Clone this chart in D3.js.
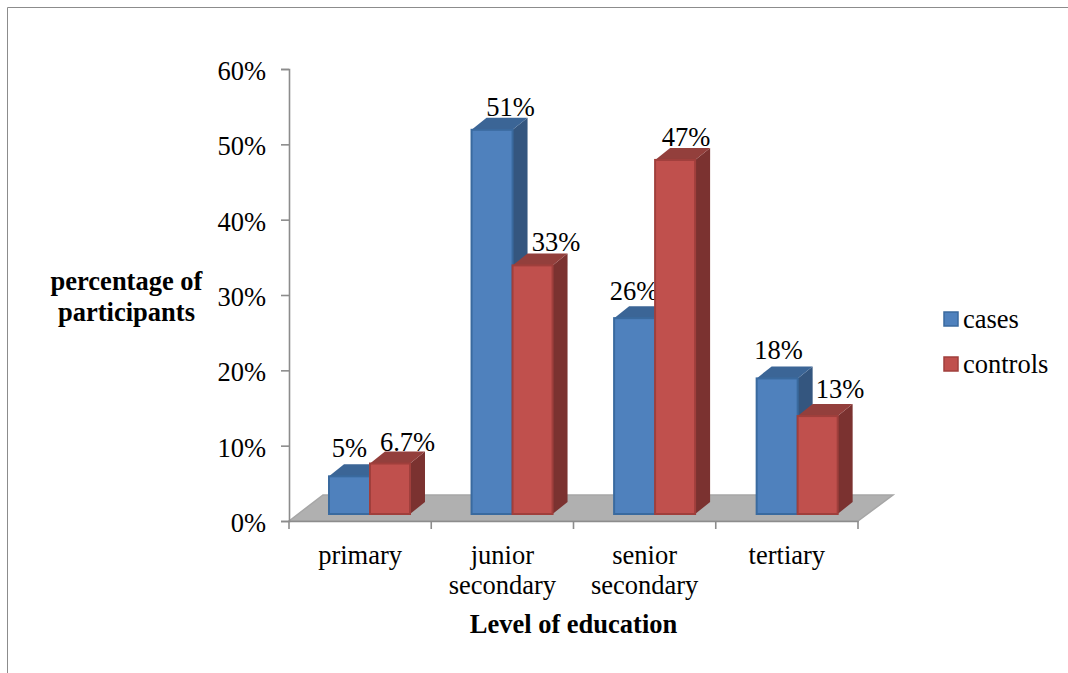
<!DOCTYPE html>
<html><head><meta charset="utf-8">
<script src="https://d3js.org/d3.v7.min.js"></script>
<style>html,body{margin:0;padding:0;background:#fff}svg{display:block}text{font-family:"Liberation Serif",serif;fill:#000}</style>
</head><body><svg id="c" width="1068" height="673"></svg>
<script>
const categories = [["primary"],["junior","secondary"],["senior","secondary"],["tertiary"]];
const categoryKeys = ["primary","junior secondary","senior secondary","tertiary"];
const seriesNames = ["cases","controls"];
const cases = [5,51,26,18];
const controls = [6.7,33,47,13];
const casesLabels = ["5%","51%","26%","18%"];
const controlsLabels = ["6.7%","33%","47%","13%"];
const tickValues = [0,10,20,30,40,50,60];

// hand-placed label nudges of the original, relative to the bar's top centre
const casesNudge = [[0,-19],[18.5,-14],[-0.5,-18],[1.5,-19]];
const controlsNudge = [[17.5,-13],[23.5,-14],[11,-14],[22.5,-18]];

const svg = d3.select("#c");
const fs = "26.5px";
const x = d3.scaleBand().domain(categoryKeys).range([289,858]);
const y = d3.scaleLinear().domain([0,60]).range([521,69]);
const dx = 15, dy = -12, wallDrop = 7, barWs = [41,40], inset = 40, drift = 0.3;
const pal = [
 {front:"#4f81bd",top:"#3b6596",side:"#34567f",stroke:"#3a6a9f"},
 {front:"#c0504d",top:"#933f3c",side:"#7b3230",stroke:"#a03f3c"}];

svg.append("path").attr("d","M7.5,673V7.5H1068").attr("fill","none").attr("stroke","#8c8c8c").attr("stroke-width",1);

// floor
const fy0 = y(0), fx0 = x.range()[0], fx1 = x.range()[1];
svg.append("path")
 .attr("d",`M${fx0},${fy0}L${fx0+34},${fy0-26}H${fx1+35}L${fx1},${fy0}Z`)
 .attr("fill","#b0b0b0").attr("stroke","#a6a6a6").attr("stroke-width",1.5);

// axes
const ga = svg.append("g").attr("transform",`translate(${fx0},0)`)
 .call(d3.axisLeft(y).tickValues(tickValues).tickSize(8).tickPadding(15).tickFormat(d=>d+"%"));
ga.selectAll("path,line").attr("stroke","#8c8c8c").attr("stroke-width",1.6);
ga.selectAll("text").style("font-size",fs).attr("font-family","Liberation Serif").attr("fill","#000").attr("dy","0.4em");
const gb = svg.append("g").attr("transform",`translate(0,${fy0})`)
 .call(d3.axisBottom(x).tickValues([]).tickSize(0));
gb.selectAll("path").attr("stroke","#8c8c8c").attr("stroke-width",1.6);
const edges = categoryKeys.map(k=>x(k)).concat([fx1]);
svg.selectAll(".xt").data(edges).join("line").attr("x1",d=>d).attr("x2",d=>d)
 .attr("y1",fy0).attr("y2",fy0+8).attr("stroke","#8c8c8c").attr("stroke-width",1.6);

// bars
const barData = [];
categoryKeys.forEach((k,i)=>{
  [cases,controls].forEach((vals,s)=>{
    barData.push({k,i,s,v:vals[i],w:barWs[s],label:(s?controlsLabels:casesLabels)[i],n:(s?controlsNudge:casesNudge)[i]});
  });
});
const bars = svg.selectAll(".bar").data(barData).join("g").attr("class","bar");
const X = d => x(d.k)+inset+d.i*drift+d.s*barWs[0];
const T = d => y(d.v)-wallDrop;
const B = () => y(0)-wallDrop;
bars.append("path").attr("d",d=>`M${X(d)+d.w},${T(d)}l${dx},${dy}V${B()+dy}l${-dx},${-dy}Z`)
 .attr("fill",d=>pal[d.s].side);
bars.append("path").attr("d",d=>`M${X(d)},${T(d)}l${dx},${dy}h${d.w}l${-dx},${-dy}Z`)
 .attr("fill",d=>pal[d.s].top);
bars.append("rect").attr("x",d=>X(d)).attr("y",T).attr("width",d=>d.w).attr("height",d=>B()-T(d))
 .attr("fill",d=>pal[d.s].front).attr("stroke",d=>pal[d.s].stroke).attr("stroke-width",2);
bars.append("text").attr("x",d=>X(d)+d.w/2+d.n[0]).attr("y",d=>T(d)+d.n[1])
 .attr("text-anchor","middle").style("font-size",fs).text(d=>d.label);

// category labels
categoryKeys.forEach((k,i)=>{
  const t = svg.append("text").attr("text-anchor","middle").style("font-size",fs);
  categories[i].forEach((ln,j)=>t.append("tspan").attr("x",x(k)+x.bandwidth()/2).attr("y",564+j*30).text(ln));
});

svg.append("text").attr("x",573.5).attr("y",633).attr("text-anchor","middle")
 .style("font-size",fs).style("font-weight","bold").text("Level of education");
const yt = svg.append("text").attr("text-anchor","middle").style("font-size",fs).style("font-weight","bold");
["percentage of","participants"].forEach((l,j)=>yt.append("tspan").attr("x",126.5).attr("y",290+j*31).text(l));

// legend
seriesNames.forEach((n,i)=>{
  const ly = 319+i*45;
  svg.append("rect").attr("x",944).attr("y",ly-7).attr("width",14).attr("height",14)
   .attr("fill",pal[i].front).attr("stroke",pal[i].stroke).attr("stroke-width",1.5);
  svg.append("text").attr("x",963).attr("y",ly+9).style("font-size",fs).text(n);
});
</script></body></html>
